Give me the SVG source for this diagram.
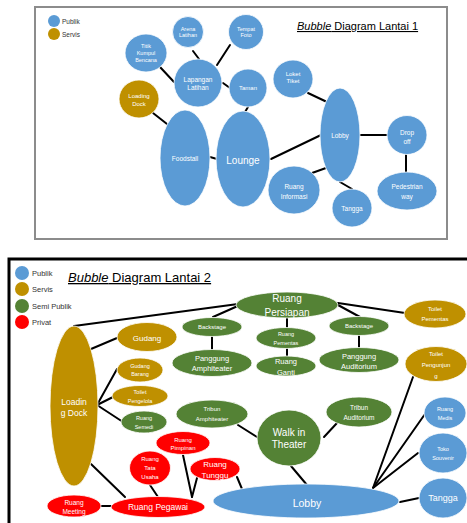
<svg xmlns="http://www.w3.org/2000/svg" width="467" height="523" viewBox="0 0 467 523">
<style>
.blue{fill:#5B9BD5}.gold{fill:#BF9000}.green{fill:#548235}.red{fill:#FF0000}
.node ellipse,.node circle{stroke:#ffffff;stroke-width:0.8}
.lbl{fill:#ffffff;font-family:"Liberation Sans",Arial,sans-serif;text-anchor:middle;dominant-baseline:central}
.leg{fill:#333333;font-family:"Liberation Sans",Arial,sans-serif;dominant-baseline:central}
.title{fill:#000000;font-family:"Liberation Sans",Arial,sans-serif;text-decoration:underline}
.conn line{stroke:#000000;stroke-width:2;stroke-linecap:round}
</style>
<rect x="0" y="0" width="467" height="523" fill="#ffffff"/>
<rect x="35" y="7" width="412" height="232" fill="#ffffff" stroke="#8c8c8c" stroke-width="2"/>
<path d="M9,530 V259 H470" fill="none" stroke="#000000" stroke-width="3"/>

<g id="legend-1">
<circle cx="54" cy="21" r="6" class="blue"/>
<text x="62" y="21" class="leg" font-size="6.5">Publik</text>
<circle cx="54" cy="34" r="6" class="gold"/>
<text x="62" y="34" class="leg" font-size="6.5">Servis</text>
</g>
<text x="297" y="30" class="title" font-size="11"><tspan font-style="italic">Bubble</tspan> Diagram Lantai 1</text>

<g id="connectors-1" class="conn">
<line x1="160" y1="67" x2="174" y2="82"/>
<line x1="193" y1="51" x2="199" y2="59"/>
<line x1="230" y1="45" x2="217" y2="65"/>
<line x1="223" y1="83" x2="230" y2="88"/>
<line x1="248" y1="107" x2="245" y2="112"/>
<line x1="153" y1="113" x2="167" y2="124"/>
<line x1="210" y1="157" x2="217" y2="159"/>
<line x1="271" y1="159" x2="321" y2="135"/>
<line x1="312" y1="173" x2="326" y2="168"/>
<line x1="308" y1="93" x2="327" y2="102"/>
<line x1="360" y1="135" x2="387" y2="135"/>
<line x1="406" y1="155" x2="406" y2="172"/>
<line x1="340" y1="182" x2="352" y2="189"/>
</g>

<g id="arena-latihan" class="node"><circle cx="188" cy="32" r="15.5" class="blue"/><text class="lbl" font-size="5.5"><tspan x="188" y="28.7">Arena</tspan><tspan x="188" y="35.3">Latihan</tspan></text></g>
<g id="titik-kumpul" class="node"><ellipse cx="146" cy="53" rx="21" ry="19" class="blue"/><text class="lbl" font-size="5.5"><tspan x="146" y="46.4">Titik</tspan><tspan x="146" y="53">Kumpul</tspan><tspan x="146" y="59.6">Bencana</tspan></text></g>
<g id="tempat-foto" class="node"><circle cx="246" cy="32" r="17.5" class="blue"/><text class="lbl" font-size="5.5"><tspan x="246" y="28.7">Tempat</tspan><tspan x="246" y="35.3">Foto</tspan></text></g>
<g id="lapangan-latihan" class="node"><circle cx="198" cy="83" r="24" class="blue"/><text class="lbl" font-size="6.5"><tspan x="198" y="79">Lapangan</tspan><tspan x="198" y="87">Latihan</tspan></text></g>
<g id="taman" class="node"><circle cx="248" cy="88" r="19" class="blue"/><text x="248" y="88" class="lbl" font-size="6">Taman</text></g>
<g id="loket-tiket" class="node"><ellipse cx="293" cy="79" rx="20" ry="19" class="blue"/><text class="lbl" font-size="6"><tspan x="293" y="73.5">Loket</tspan><tspan x="293" y="81">Tiket</tspan></text></g>
<g id="loading-dock-1" class="node"><ellipse cx="139" cy="99" rx="20" ry="19" class="gold"/><text class="lbl" font-size="6"><tspan x="139" y="96">Loading</tspan><tspan x="139" y="103.5">Dock</tspan></text></g>
<g id="foodstall" class="node"><ellipse cx="185" cy="158" rx="25" ry="48" class="blue"/><text x="185" y="158" class="lbl" font-size="6.5">Foodstall</text></g>
<g id="lounge" class="node"><ellipse cx="243" cy="159" rx="27" ry="48" class="blue"/><text x="243" y="160" class="lbl" font-size="10">Lounge</text></g>
<g id="lobby-1" class="node"><ellipse cx="340" cy="135" rx="20" ry="47" class="blue"/><text x="340" y="135" class="lbl" font-size="6.5">Lobby</text></g>
<g id="ruang-informasi" class="node"><ellipse cx="294" cy="190" rx="26" ry="24" class="blue"/><text class="lbl" font-size="6.5"><tspan x="294" y="186">Ruang</tspan><tspan x="294" y="195.5">Informasi</tspan></text></g>
<g id="tangga-1" class="node"><ellipse cx="352" cy="208" rx="20" ry="19" class="blue"/><text x="352" y="208" class="lbl" font-size="6.5">Tangga</text></g>
<g id="drop-off" class="node"><ellipse cx="407" cy="135" rx="20" ry="19.5" class="blue"/><text class="lbl" font-size="6.5"><tspan x="407" y="132">Drop</tspan><tspan x="407" y="141">off</tspan></text></g>
<g id="pedestrian-way" class="node"><ellipse cx="407" cy="191" rx="30" ry="19" class="blue"/><text class="lbl" font-size="6.5"><tspan x="407" y="186">Pedestrian</tspan><tspan x="407" y="195.5">way</tspan></text></g>

<g id="legend-2">
<circle cx="22" cy="273" r="7" class="blue"/><text x="32" y="273" class="leg" font-size="7.5">Publik</text>
<circle cx="22" cy="289" r="7" class="gold"/><text x="32" y="289" class="leg" font-size="7.5">Servis</text>
<circle cx="22" cy="306" r="7" class="green"/><text x="32" y="306" class="leg" font-size="7.5">Semi Publik</text>
<circle cx="22" cy="322" r="7" class="red"/><text x="32" y="322" class="leg" font-size="7.5">Privat</text>
</g>
<text x="68" y="282" class="title" font-size="13"><tspan font-style="italic">Bubble</tspan> Diagram Lantai 2</text>

<g id="connectors-2" class="conn">
<line x1="74" y1="326" x2="238" y2="304"/>
<line x1="213" y1="317" x2="240" y2="305"/>
<line x1="212" y1="336" x2="212" y2="350"/>
<line x1="287" y1="318" x2="287" y2="328"/>
<line x1="287" y1="348" x2="287" y2="356"/>
<line x1="338" y1="305" x2="360" y2="317"/>
<line x1="359" y1="335" x2="359" y2="348"/>
<line x1="338" y1="303" x2="405" y2="313"/>
<line x1="91" y1="349" x2="117" y2="338"/>
<line x1="97" y1="405" x2="117" y2="369"/>
<line x1="97" y1="405" x2="113" y2="397"/>
<line x1="97" y1="405" x2="123" y2="422"/>
<line x1="91" y1="464" x2="125" y2="497"/>
<line x1="101" y1="506" x2="111" y2="506"/>
<line x1="150" y1="485" x2="158" y2="497"/>
<line x1="183" y1="455" x2="192" y2="497"/>
<line x1="197" y1="478" x2="192" y2="497"/>
<line x1="237" y1="477" x2="242" y2="489"/>
<line x1="291" y1="466" x2="307" y2="485"/>
<line x1="238" y1="425" x2="257" y2="437"/>
<line x1="337" y1="423" x2="324" y2="437"/>
<line x1="373" y1="488" x2="413" y2="377"/>
<line x1="373" y1="488" x2="425" y2="414"/>
<line x1="373" y1="488" x2="418" y2="453"/>
<line x1="400" y1="502" x2="419" y2="498"/>
</g>

<g id="loading-dock-2" class="node"><ellipse cx="74" cy="406" rx="24" ry="80" class="gold"/><text class="lbl" font-size="8.5"><tspan x="74" y="402">Loadin</tspan><tspan x="74" y="413">g Dock</tspan></text></g>
<g id="gudang" class="node"><ellipse cx="147" cy="337" rx="30" ry="14.5" class="gold"/><text x="147" y="338" class="lbl" font-size="8">Gudang</text></g>
<g id="gudang-barang" class="node"><ellipse cx="140" cy="370" rx="23" ry="12" class="gold"/><text class="lbl" font-size="5.5"><tspan x="140" y="365.5">Gudang</tspan><tspan x="140" y="374">Barang</tspan></text></g>
<g id="toilet-pengelola" class="node"><ellipse cx="140" cy="396" rx="28" ry="10.5" class="gold"/><text class="lbl" font-size="5.5"><tspan x="140" y="392">Toilet</tspan><tspan x="140" y="401">Pengelola</tspan></text></g>
<g id="ruang-semedi" class="node"><ellipse cx="144" cy="422" rx="23" ry="11" class="green"/><text class="lbl" font-size="5.5"><tspan x="144" y="418">Ruang</tspan><tspan x="144" y="427">Semedi</tspan></text></g>
<g id="backstage-amphi" class="node"><ellipse cx="212" cy="327" rx="30" ry="9.5" class="green"/><text x="212" y="327" class="lbl" font-size="6">Backstage</text></g>
<g id="panggung-amphiteater" class="node"><ellipse cx="212" cy="363" rx="40" ry="13.5" class="green"/><text class="lbl" font-size="7.5"><tspan x="212" y="358">Panggung</tspan><tspan x="212" y="368">Amphiteater</tspan></text></g>
<g id="ruang-persiapan" class="node"><ellipse cx="287" cy="305" rx="51" ry="13" class="green"/><text class="lbl" font-size="10"><tspan x="287" y="298">Ruang</tspan><tspan x="287" y="311.5">Persiapan</tspan></text></g>
<g id="ruang-pementas" class="node"><ellipse cx="286" cy="338" rx="30" ry="10.5" class="green"/><text class="lbl" font-size="5.5"><tspan x="286" y="333.5">Ruang</tspan><tspan x="286" y="343">Pementas</tspan></text></g>
<g id="ruang-ganti" class="node"><ellipse cx="286" cy="366" rx="30" ry="10" class="green"/><text class="lbl" font-size="7.5"><tspan x="286" y="361">Ruang</tspan><tspan x="286" y="371.5">Ganti</tspan></text></g>
<g id="backstage-auditorium" class="node"><ellipse cx="359" cy="326" rx="30" ry="9.5" class="green"/><text x="359" y="326" class="lbl" font-size="6">Backstage</text></g>
<g id="panggung-auditorium" class="node"><ellipse cx="359" cy="360" rx="40" ry="12.5" class="green"/><text class="lbl" font-size="7.5"><tspan x="359" y="356">Panggung</tspan><tspan x="359" y="366">Auditorium</tspan></text></g>
<g id="toilet-pementas" class="node"><ellipse cx="435" cy="314" rx="31" ry="14" class="gold"/><text class="lbl" font-size="6"><tspan x="435" y="309">Toilet</tspan><tspan x="435" y="319">Pementas</tspan></text></g>
<g id="toilet-pengunjung" class="node"><ellipse cx="436" cy="364" rx="31" ry="17.5" class="gold"/><text class="lbl" font-size="6"><tspan x="436" y="354">Toilet</tspan><tspan x="436" y="364.5">Pengunjun</tspan><tspan x="436" y="376">g</tspan></text></g>
<g id="ruang-medis" class="node"><ellipse cx="445" cy="413" rx="21" ry="16" class="blue"/><text class="lbl" font-size="5.5"><tspan x="445" y="408.5">Ruang</tspan><tspan x="445" y="418">Medis</tspan></text></g>
<g id="toko-souvenir" class="node"><ellipse cx="443" cy="453" rx="24" ry="20" class="blue"/><text class="lbl" font-size="5.5"><tspan x="443" y="449">Toko</tspan><tspan x="443" y="458">Souvenir</tspan></text></g>
<g id="tangga-2" class="node"><ellipse cx="443" cy="498" rx="24" ry="20" class="blue"/><text x="443" y="498" class="lbl" font-size="9">Tangga</text></g>
<g id="lobby-2" class="node"><ellipse cx="306" cy="501" rx="93" ry="17" class="blue"/><text x="307" y="503" class="lbl" font-size="10.5">Lobby</text></g>
<g id="walk-in-theater" class="node"><ellipse cx="289" cy="438" rx="32" ry="28" class="green"/><text class="lbl" font-size="10"><tspan x="289" y="432">Walk in</tspan><tspan x="289" y="443.5">Theater</tspan></text></g>
<g id="tribun-amphiteater" class="node"><ellipse cx="212" cy="414" rx="36" ry="14" class="green"/><text class="lbl" font-size="6"><tspan x="212" y="408.5">Tribun</tspan><tspan x="212" y="418.5">Amphiteater</tspan></text></g>
<g id="tribun-auditorium" class="node"><ellipse cx="359" cy="412" rx="33" ry="15" class="green"/><text class="lbl" font-size="6.5"><tspan x="359" y="407">Tribun</tspan><tspan x="359" y="417">Auditorium</tspan></text></g>
<g id="ruang-pimpinan" class="node"><ellipse cx="183" cy="443" rx="27" ry="11.5" class="red"/><text class="lbl" font-size="6"><tspan x="183" y="439.5">Ruang</tspan><tspan x="183" y="448">Pimpinan</tspan></text></g>
<g id="ruang-tata-usaha" class="node"><ellipse cx="150" cy="468" rx="20.5" ry="17" class="red"/><text class="lbl" font-size="6"><tspan x="150" y="459">Ruang</tspan><tspan x="150" y="468">Tata</tspan><tspan x="150" y="477">Usaha</tspan></text></g>
<g id="ruang-tunggu" class="node"><ellipse cx="215" cy="469" rx="25" ry="11.5" class="red"/><text class="lbl" font-size="8"><tspan x="215" y="464">Ruang</tspan><tspan x="215" y="475">Tunggu</tspan></text></g>
<g id="ruang-pegawai" class="node"><ellipse cx="158" cy="507" rx="47" ry="10.5" class="red"/><text x="158" y="507" class="lbl" font-size="8.5">Ruang Pegawai</text></g>
<g id="ruang-meeting" class="node"><ellipse cx="74" cy="506" rx="27" ry="11" class="red"/><text class="lbl" font-size="6.5"><tspan x="74" y="502">Ruang</tspan><tspan x="74" y="511">Meeting</tspan></text></g>
</svg>
